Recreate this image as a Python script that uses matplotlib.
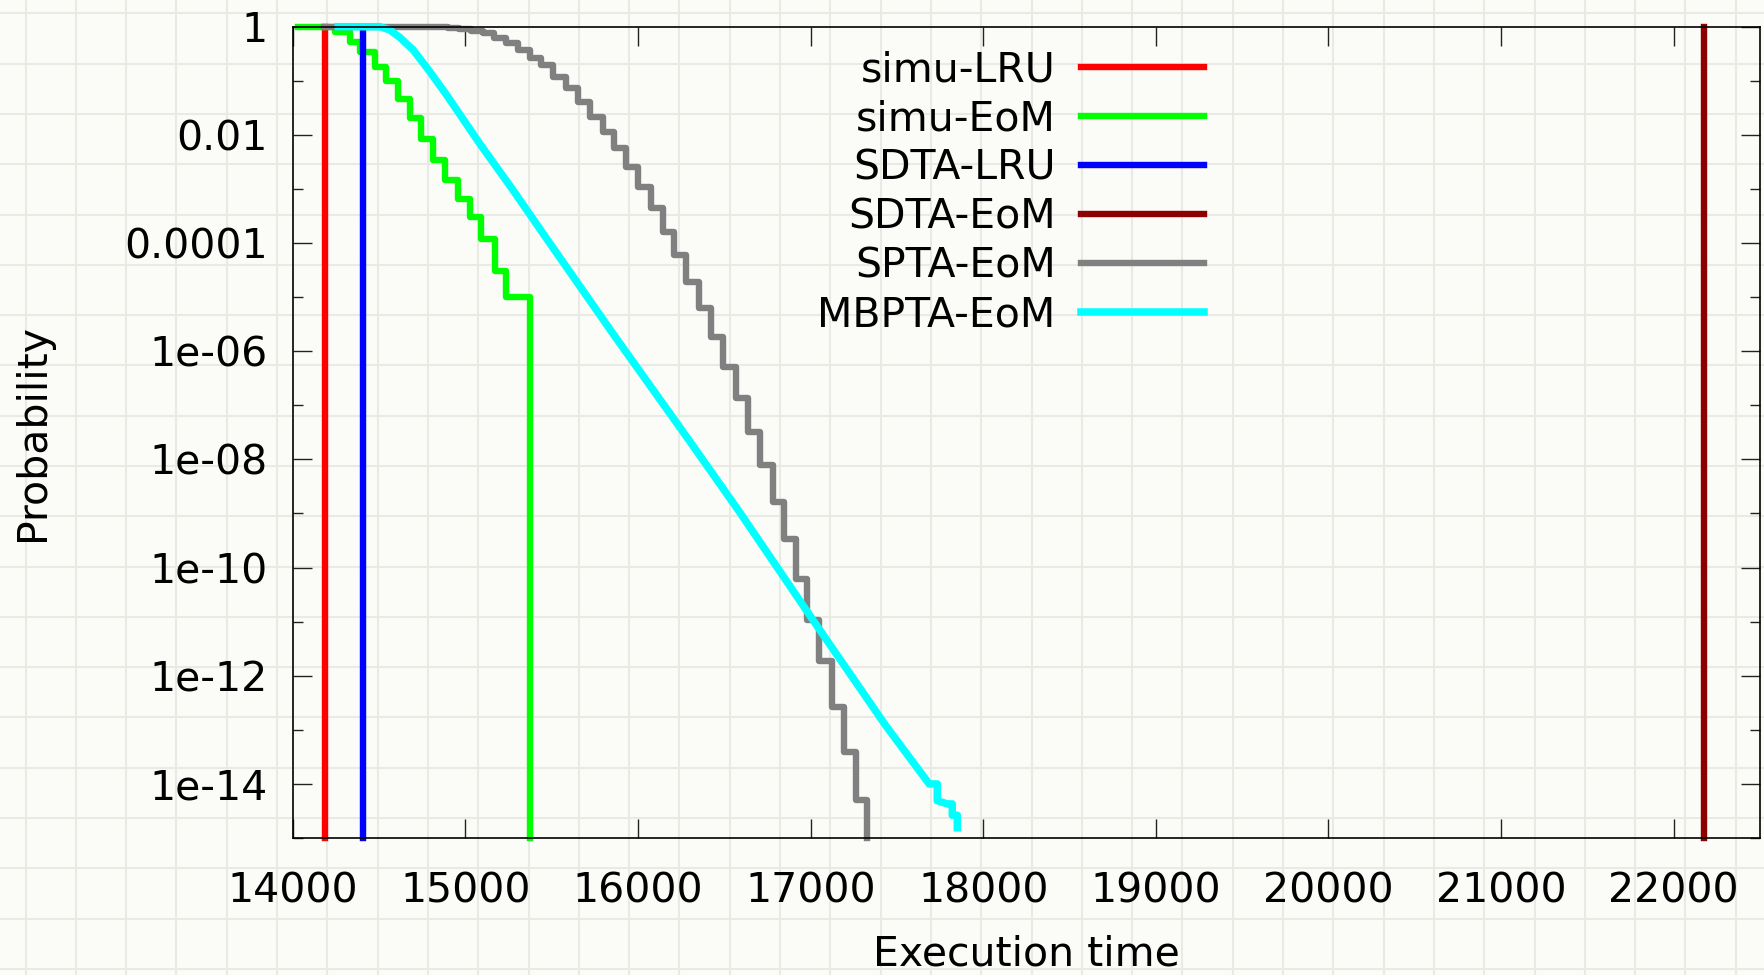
import numpy as np
import matplotlib
matplotlib.use('Agg')
import matplotlib.pyplot as plt
from matplotlib.ticker import FixedLocator, FixedFormatter, NullFormatter, NullLocator

# --- data ---
simu_lru_x = 14189
sdta_lru_x = 14405
sdta_eom_x = 22175

# simu-EoM: step curve, x where each level starts, log10(probability)
simu_eom_x = [14030, 14243, 14330, 14388, 14475, 14543, 14611, 14678, 14746,
              14813, 14881, 14958, 15025, 15093, 15170, 15238, 15377]
simu_eom_logp = [0, -0.105, -0.278, -0.463, -0.741, -1.006, -1.34, -1.68, -2.07,
                 -2.457, -2.84, -3.19, -3.52, -3.93, -4.52, -5.0, -15]

# SPTA-EoM: step curve
spta_eom_x = [14180, 14831, 14899, 14966, 15034, 15101, 15169, 15237, 15304,
              15372, 15439, 15507, 15585, 15652, 15720, 15796, 15864, 15932,
              15999, 16076, 16143, 16211, 16279, 16356, 16423, 16490, 16568,
              16635, 16705, 16780, 16848, 16915, 16982, 17050, 17127, 17195,
              17262, 17329]
spta_eom_logp = [0, -0.012, -0.024, -0.043, -0.074, -0.123, -0.215, -0.31, -0.43,
                 -0.585, -0.70, -0.925, -1.14, -1.387, -1.665, -1.94, -2.25, -2.59,
                 -2.96, -3.36, -3.79, -4.22, -4.72, -5.21, -5.74, -6.29, -6.87,
                 -7.49, -8.11, -8.79, -9.48, -10.22, -10.97, -11.73, -12.57, -13.41,
                 -14.29, -15]

# MBPTA-EoM: fitted tail
mbpta_eom_x = [14264, 14505, 14563, 14621, 14698, 14794, 14891, 15083, 15276,
               15469, 15854, 16299, 16588, 17031, 17435, 17687, 17734, 17734,
               17792, 17821, 17821, 17850, 17850]
mbpta_eom_logp = [0, 0, -0.06, -0.2, -0.43, -0.83, -1.26, -2.16, -3.02,
                  -3.91, -5.67, -7.66, -8.97, -11.05, -12.92, -14.0, -14.0, -14.31,
                  -14.37, -14.37, -14.58, -14.58, -14.81]

x_ticks = list(range(14000, 22001, 1000))
y_major = [1, 1e-2, 1e-4, 1e-6, 1e-8, 1e-10, 1e-12, 1e-14]
y_major_labels = ['1', '0.01', '0.0001', '1e-06', '1e-08', '1e-10', '1e-12', '1e-14']
y_minor = [1e-1, 1e-3, 1e-5, 1e-7, 1e-9, 1e-11, 1e-13, 1e-15]

W, H = 1764, 975
bgcol = '#fbfbf7'
fs = 29.5
fig = plt.figure(figsize=(W / 100, H / 100), dpi=100, facecolor=bgcol)

# faint paper grid behind everything
bg = fig.add_axes([0, 0, 1, 1], zorder=-1)
bg.set_xlim(0, W)
bg.set_ylim(H, 0)
for gx in np.arange(25.5, W, 50.3):
    bg.axvline(gx, color='#eaeae5', lw=1.5)
for gy in np.arange(13.3, H, 50.3):
    bg.axhline(gy, color='#eaeae5', lw=1.5)
bg.axis('off')

left, right, top, bottom = 292.7, 1760, 26.7, 838
ax = fig.add_axes([left / W, 1 - bottom / H, (right - left) / W, (bottom - top) / H])
ax.set_facecolor('none')

lw = 4.6
ax.plot([simu_lru_x, simu_lru_x], [1, 1e-15], color='#ff0000', lw=lw, clip_on=False, label='simu-LRU')
ax.plot(simu_eom_x, 10.0 ** np.array(simu_eom_logp), drawstyle='steps-post',
        color='#00ff00', lw=lw, clip_on=False, label='simu-EoM')
ax.plot([sdta_lru_x, sdta_lru_x], [1, 1e-15], color='#0000ff', lw=lw, clip_on=False, label='SDTA-LRU')
ax.plot([sdta_eom_x, sdta_eom_x], [1, 1e-15], color='#8b0000', lw=lw, clip_on=False, label='SDTA-EoM')
ax.plot(spta_eom_x, 10.0 ** np.array(spta_eom_logp), drawstyle='steps-post',
        color='#808080', lw=lw, clip_on=False, label='SPTA-EoM')
ax.plot(mbpta_eom_x, 10.0 ** np.array(mbpta_eom_logp), color='#00ffff',
        lw=5.4, clip_on=False, label='MBPTA-EoM')

ax.set_yscale('log')
ax.set_xlim(14000, 22500)
ax.set_ylim(1e-15, 1)

ax.xaxis.set_major_locator(FixedLocator(x_ticks))
ax.xaxis.set_minor_locator(NullLocator())
ax.yaxis.set_major_locator(FixedLocator(y_major))
ax.yaxis.set_major_formatter(FixedFormatter(y_major_labels))
ax.yaxis.set_minor_locator(FixedLocator(y_minor))
ax.yaxis.set_minor_formatter(NullFormatter())

ax.tick_params(axis='both', which='both', direction='in', top=True, right=True,
               color='#222222', width=1.0, labelsize=fs)
ax.tick_params(axis='both', which='major', length=14)
ax.tick_params(axis='y', which='minor', length=7)
ax.tick_params(axis='x', which='major', pad=24)
ax.tick_params(axis='y', which='major', pad=18)
for s in ax.spines.values():
    s.set_linewidth(1.2)
    s.set_color('black')

ax.set_xlabel('Execution time', fontsize=fs)
ax.set_ylabel('Probability', fontsize=fs)
ax.xaxis.label.set_va('center')
ax.yaxis.label.set_va('center')
ax.xaxis.set_label_coords(0.5, (bottom - 955) / (bottom - top))
ax.yaxis.set_label_coords((33.5 - left) / (right - left), 0.5)

ax.legend(loc='upper right', bbox_to_anchor=(1204 / W, 1 - 50 / H),
          bbox_transform=fig.transFigure, frameon=False, markerfirst=False,
          fontsize=fs, handlelength=3.0, handletextpad=0.62,
          labelspacing=0.22, borderpad=0, borderaxespad=0)

fig.savefig('out.png', dpi=100, facecolor=bgcol)
